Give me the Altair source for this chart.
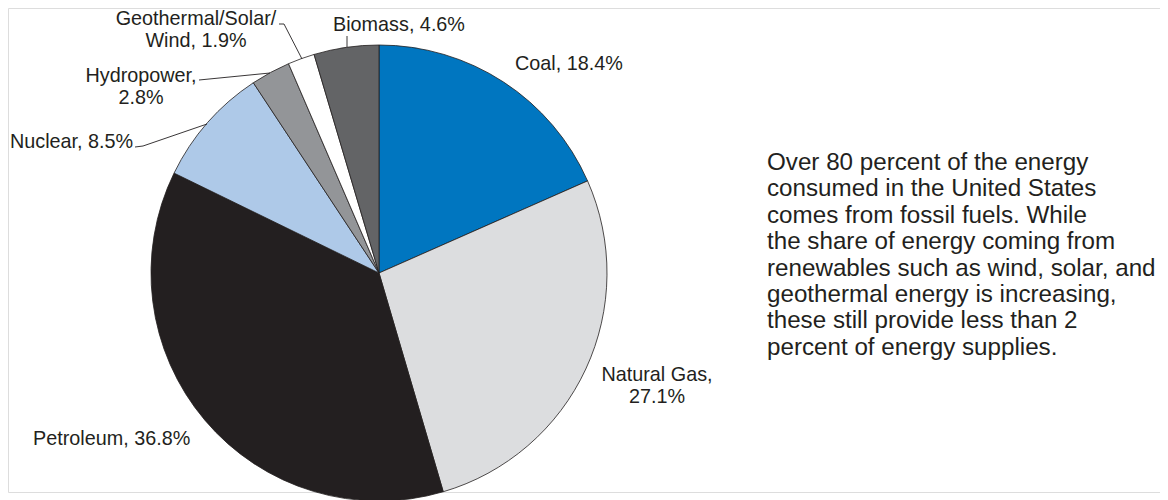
import altair as alt
import pandas as pd

# Pie data (clockwise from 12 o'clock)
names = ["Coal", "Natural Gas", "Petroleum", "Nuclear", "Hydropower", "Geothermal/Solar/Wind", "Biomass"]
values = [18.4, 27.1, 36.8, 8.5, 2.8, 1.9, 4.6]
colors = ["#0076c0", "#dcdddf", "#231f20", "#aec9e8", "#939598", "#ffffff", "#636466"]

# Label texts (one row per text line)
label_text = ["Coal, 18.4%", "Natural Gas,", "27.1%", "Petroleum, 36.8%", "Nuclear, 8.5%",
              "Hydropower,", "2.8%", "Geothermal/Solar/", "Wind, 1.9%", "Biomass, 4.6%"]
label_x = [515, 657, 657, 33, 10, 141, 141, 196, 196, 399]
label_y = [70, 381, 403, 445, 148, 82, 104, 25, 47, 31]
label_align = ["left", "center", "center", "left", "left", "center", "center", "center", "center", "center"]

# Leader lines
leader_id = ["bio", "bio", "geo", "geo", "geo", "hyd", "hyd", "nuc", "nuc", "nuc"]
leader_x = [347, 347, 279, 284, 302, 199, 270, 135, 143, 207]
leader_y = [36, 47, 24, 24, 59, 80, 73, 147, 146, 124]

body_lines = [
    "Over 80 percent of the energy",
    "consumed in the United States",
    "comes from fossil fuels. While",
    "the share of energy coming from",
    "renewables such as wind, solar, and",
    "geothermal energy is increasing,",
    "these still provide less than 2",
    "percent of energy supplies.",
]

W, H = 1152, 484
CX, CY, R = 379, 273, 228
FONT = "Liberation Sans"
INK = "#231f20"

pie_df = pd.DataFrame({"name": names, "value": values, "idx": list(range(len(names)))})
lab_df = pd.DataFrame({"text": label_text, "x": label_x, "y": label_y, "align": label_align})
lead_df = pd.DataFrame({"id": leader_id, "x": leader_x, "y": leader_y, "o": list(range(len(leader_id)))})
body_df = pd.DataFrame({"text": body_lines, "x": [767] * len(body_lines),
                        "y": [170 + 26.4 * i for i in range(len(body_lines))]})

xs = alt.Scale(domain=[8, 8 + W], nice=False, zero=False)
ys = alt.Scale(domain=[8, 8 + H], nice=False, zero=False, reverse=True)
X = lambda: alt.X("x:Q", scale=xs, axis=None)
Y = lambda: alt.Y("y:Q", scale=ys, axis=None)

pie = alt.Chart(pie_df).mark_arc(outerRadius=R, stroke=INK, strokeWidth=0.8).encode(
    theta=alt.Theta("value:Q", stack=True),
    color=alt.Color("name:N", scale=alt.Scale(domain=names, range=colors), legend=None),
    order=alt.Order("idx:Q"),
    x=alt.value(CX - 8),
    y=alt.value(CY - 8),
)

leaders = alt.Chart(lead_df).mark_line(color=INK, strokeWidth=0.9).encode(
    x=X(), y=Y(), detail="id:N", order="o:Q"
)

lab_left = alt.Chart(lab_df).transform_filter(alt.datum.align == "left").mark_text(
    align="left", baseline="alphabetic", font=FONT, fontSize=19.8, color=INK
).encode(x=X(), y=Y(), text="text:N")

lab_center = alt.Chart(lab_df).transform_filter(alt.datum.align == "center").mark_text(
    align="center", baseline="alphabetic", font=FONT, fontSize=19.8, color=INK
).encode(x=X(), y=Y(), text="text:N")

body = alt.Chart(body_df).mark_text(
    align="left", baseline="alphabetic", font=FONT, fontSize=24.2, color=INK
).encode(x=X(), y=Y(), text="text:N")

chart = alt.layer(pie, leaders, lab_left, lab_center, body).properties(
    width=W, height=H, padding=0
).configure_view(strokeWidth=0, stroke="transparent").configure(background="white")

chart.save("out.html", embed_options={"renderer": "svg", "actions": False})
